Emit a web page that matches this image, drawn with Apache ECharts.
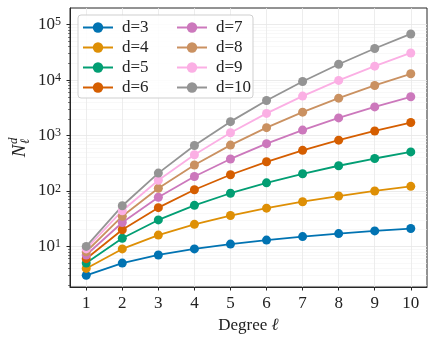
<!DOCTYPE html>
<html>
<head>
<meta charset="utf-8">
<script src="https://cdn.jsdelivr.net/npm/echarts@6/dist/echarts.min.js"></script>
<style>
  html, body { margin: 0; padding: 0; background: #fff; }
  #chart { width: 436px; height: 344px; }
</style>
</head>
<body>
<div id="chart"></div>
<script>
// degree l and N_l^d for each dimension d
const degrees = [1, 2, 3, 4, 5, 6, 7, 8, 9, 10];
const d3 = [3, 5, 7, 9, 11, 13, 15, 17, 19, 21];
const d4 = [4, 9, 16, 25, 36, 49, 64, 81, 100, 121];
const d5 = [5, 14, 30, 55, 91, 140, 204, 285, 385, 506];
const d6 = [6, 20, 50, 105, 196, 336, 540, 825, 1210, 1716];
const d7 = [7, 27, 77, 182, 378, 714, 1254, 2079, 3289, 5005];
const d8 = [8, 35, 112, 294, 672, 1386, 2640, 4719, 8008, 13013];
const d9 = [9, 44, 156, 450, 1122, 2508, 5148, 9867, 17875, 30888];
const d10 = [10, 54, 210, 660, 1782, 4290, 9438, 19305, 37180, 68068];

const seriesNames = ['d=3', 'd=4', 'd=5', 'd=6', 'd=7', 'd=8', 'd=9', 'd=10'];
const seriesValues = [d3, d4, d5, d6, d7, d8, d9, d10];
const colors = ['#0173b2', '#de8f05', '#029e73', '#d55e00', '#cc78bc', '#ca9161', '#fbafe4', '#949494'];

const majorTicks = [10, 100, 1000, 10000, 100000];
const minorTicks = [];
[1, 10, 100, 1000, 10000].forEach(p => {
  for (let k = 2; k <= 9; k++) minorTicks.push(k * p);
});

const serif = '"Liberation Serif", "DejaVu Serif", serif';

let chart = echarts.init(document.getElementById('chart'));

const series = seriesNames.map((name, i) => ({
  name: name,
  type: 'line',
  xAxisIndex: 0,
  yAxisIndex: 0,
  data: degrees.map((x, j) => [x, seriesValues[i][j]]),
  symbol: 'circle',
  symbolSize: 9,
  color: colors[i],
  lineStyle: { width: 1.8 },
  emphasis: { disabled: true },
  animation: false
}));

const legendCommon = {
  orient: 'vertical',
  top: 14,
  itemWidth: 30,
  itemHeight: 13,
  itemGap: 3,
  textStyle: { fontFamily: serif, fontSize: 17, color: '#222', padding: [0, 0, 0, 4] },
  selectedMode: false,
  z: 10
};

chart.setOption({
  animation: false,
  grid: {
    left: 70, right: 9, top: 8, bottom: 57,
    show: true, borderColor: '#262626', borderWidth: 1
  },
  xAxis: {
    type: 'value',
    min: 0.55,
    max: 10.45,
    name: 'Degree {it|ℓ}',
    nameLocation: 'middle',
    nameGap: 25,
    nameTextStyle: {
      fontFamily: serif, fontSize: 17, color: '#222',
      rich: { it: { fontFamily: serif, fontSize: 17, fontStyle: 'italic', color: '#222' } }
    },
    axisLine: { show: true, lineStyle: { color: '#262626', width: 1 } },
    axisTick: { show: true, length: 3.5, customValues: degrees, lineStyle: { color: '#262626' } },
    axisLabel: { customValues: degrees, margin: 8, fontFamily: serif, fontSize: 17, color: '#222' },
    splitLine: { show: true, lineStyle: { color: '#e9e9e9', width: 0.8 } }
  },
  yAxis: [
    {
      type: 'log',
      min: 1.85,
      max: 200000,
      axisLine: { show: true, lineStyle: { color: '#262626', width: 1 } },
      axisTick: { show: true, length: 3.5, customValues: majorTicks, lineStyle: { color: '#262626' } },
      axisLabel: {
        customValues: majorTicks,
        margin: 9,
        formatter: v => '{b|10}{s|' + Math.round(Math.log10(v)) + '}',
        rich: {
          b: { fontFamily: serif, fontSize: 17, color: '#222', lineHeight: 17 },
          s: { fontFamily: serif, fontSize: 12, color: '#222', verticalAlign: 'top' }
        }
      },
      splitLine: { show: true, lineStyle: { color: '#e6e6e6', width: 0.8 } }
    },
    {
      type: 'log',
      min: 1.85,
      max: 200000,
      position: 'left',
      axisLine: { show: false },
      axisTick: { show: true, length: 2, customValues: minorTicks, lineStyle: { color: '#262626', width: 0.6 } },
      axisLabel: { show: false },
      splitLine: { show: true, lineStyle: { color: '#f3f3f3', width: 0.6 } }
    }
  ],
  legend: [
    Object.assign({ left: 77, data: seriesNames.slice(0, 4) }, legendCommon),
    Object.assign({ left: 171, data: seriesNames.slice(4) }, legendCommon)
  ],
  graphic: [
    {
      type: 'rect',
      z: 5,
      shape: { x: 78, y: 15, width: 175, height: 83, r: 3 },
      style: { fill: 'rgba(255,255,255,0.85)', stroke: '#cfcfcf', lineWidth: 1 }
    },
    {
      type: 'group',
      x: 20,
      y: 151,
      rotation: Math.PI / 2,
      children: [
        { type: 'text', x: 0, y: 0, style: { text: 'N', fontFamily: serif, fontSize: 19, fontStyle: 'italic', fill: '#222', align: 'center', verticalAlign: 'middle' } },
        { type: 'text', x: 7, y: -6, style: { text: 'd', fontFamily: serif, fontSize: 13, fontStyle: 'italic', fill: '#222', align: 'left', verticalAlign: 'middle' } },
        { type: 'text', x: 7, y: 6, style: { text: 'ℓ', fontFamily: serif, fontSize: 13, fontStyle: 'italic', fill: '#222', align: 'left', verticalAlign: 'middle' } }
      ]
    }
  ],
  series: series
});
</script>
</body>
</html>
